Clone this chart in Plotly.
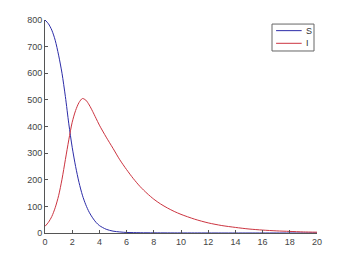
import plotly.graph_objects as go

t = [0, 0.25, 0.5, 0.75, 1.0, 1.25, 1.5, 1.75, 2.0, 2.25, 2.5, 2.75, 3.0, 3.25, 3.5, 3.75,
     4.0, 4.5, 5.0, 5.5, 6.0, 6.5, 7.0, 7.5, 8.0, 8.5, 9.0, 9.5, 10.0, 11.0, 12.0, 13.0,
     14.0, 15.0, 16.0, 17.0, 18.0, 19.0, 20.0]
S = [800, 786, 762, 724, 668, 600, 512, 410, 322, 250, 190, 142, 106, 78, 57, 40,
     28, 14, 7, 4, 2, 1.5, 1, 0.8, 0.6, 0.5, 0.4, 0.3, 0.3, 0.2, 0.2, 0.1,
     0.1, 0.1, 0.1, 0.1, 0.1, 0.1, 0.1]
I = [25, 40, 62, 95, 140, 202, 276, 350, 416, 460, 490, 505, 499, 481, 457, 431,
     405, 360, 318, 275, 238, 204, 174, 149, 127, 109, 94, 81, 70, 52, 38, 28,
     21, 15, 11, 8, 6, 4, 3]
names = ["S", "I"]
colors = ["#2c2ca8", "#cc3440"]

fig = go.Figure()
fig.add_trace(go.Scatter(x=t, y=S, mode="lines", name=names[0], showlegend=False,
                         line=dict(color=colors[0], width=1, shape="spline", smoothing=0.8)))
fig.add_trace(go.Scatter(x=t, y=I, mode="lines", name=names[1], showlegend=False,
                         line=dict(color=colors[1], width=1, shape="spline", smoothing=0.8)))

axis_common = dict(showgrid=False, zeroline=False, showline=True, linecolor="#555555",
                   linewidth=1, ticks="inside", ticklen=3, tickcolor="#555555",
                   tickfont=dict(family="Liberation Sans, Arial", size=9, color="#444444"))
fig.update_xaxes(range=[0, 20], dtick=2, **axis_common)
fig.update_yaxes(range=[0, 800], dtick=100, **axis_common)

# compact MATLAB-style legend box
lx0, lx1, ly0, ly1 = 0.8346, 0.989, 0.8545, 0.981
fig.add_shape(type="rect", xref="paper", yref="paper", x0=lx0, x1=lx1, y0=ly0, y1=ly1,
              line=dict(color="#666666", width=1), fillcolor="white", layer="above")
for k, (nm, col) in enumerate(zip(names, colors)):
    yy = 0.950 - k * 0.0594
    fig.add_shape(type="line", xref="paper", yref="paper", x0=0.8496, x1=0.9437,
                  y0=yy, y1=yy, line=dict(color=col, width=1), layer="above")
    fig.add_annotation(xref="paper", yref="paper", x=0.953, y=yy, text=nm,
                       showarrow=False, xanchor="left", yanchor="middle",
                       font=dict(family="Liberation Sans, Arial", size=9, color="#333333"))

fig.update_layout(
    width=350, height=262,
    margin=dict(l=45, r=33, t=20, b=29),
    paper_bgcolor="white", plot_bgcolor="white",
    showlegend=False,
)

fig.write_html("out.html")
